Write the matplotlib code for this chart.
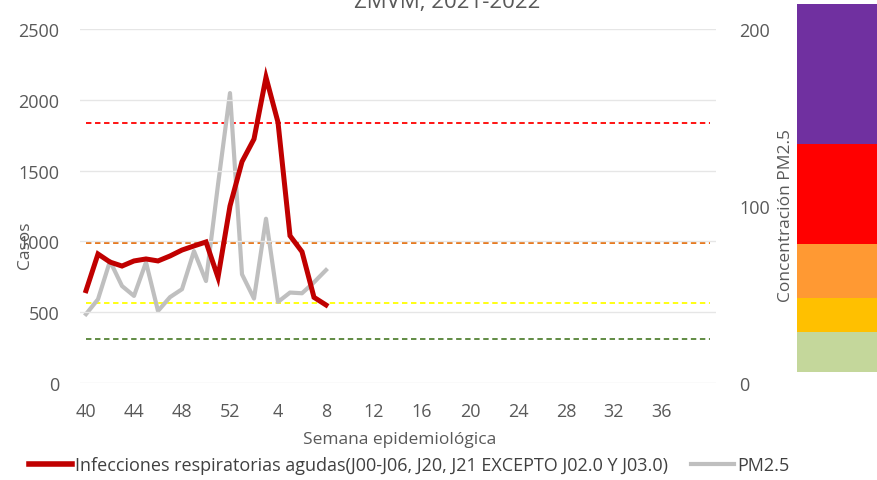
import numpy as np
import matplotlib.pyplot as plt
from matplotlib.lines import Line2D

plt.rcParams['font.family'] = ['Open Sans', 'DejaVu Sans']

# semanas epidemiologicas 40-52 (2021) y 1-40 (2022)
weeks = list(range(40, 53)) + list(range(1, 41))
casos = [652, 911, 854, 826, 862, 876, 862, 897, 939, 968, 996, 746,
         1250, 1563, 1723, 2159, 1841, 1040, 927, 605, 551]
pm25 = [38.9, 47.3, 68.9, 54.8, 49.2, 68.2, 40.7, 48.5, 53.0, 74.5, 57.6, 112,
        163.8, 61.4, 47.7, 92.8, 45.8, 51.1, 50.7, 56.9, 63.8]
# limites del indice de calidad del aire PM2.5
limites = [25, 45, 79, 147]
limite_colors = ['#548235', '#FFFF00', '#E46C0A', '#FF0000']
# franjas de la escala de color
franjas = [40, 34, 54, 100, 140]
franja_colors = ['#C4D79B', '#FFC000', '#FF9933', '#FF0000', '#7030A0']

grey = '#595959'
fig = plt.figure(figsize=(8.77, 4.81), dpi=100)
fig.patch.set_facecolor('white')

ax = fig.add_axes([80 / 877, 1 - 384 / 481, 636 / 877, 354 / 481])
ax2 = ax.twinx()

x = np.arange(len(weeks))
ax.plot(x[:len(casos)], casos, color='#C00000', lw=3.6, solid_joinstyle='miter', zorder=3)
ax2.plot(x[:len(pm25)], pm25, color='#BFBFBF', lw=3.0, zorder=2)
for v, c in zip(limites, limite_colors):
    ax2.plot(x, [v] * len(x), color=c, lw=1.3, ls=(0, (3, 2)), zorder=1)

ax.set_zorder(ax2.get_zorder() + 1)
ax.patch.set_visible(False)

ax.set_xlim(-0.5, len(weeks) - 0.5)
ax.set_ylim(0, 2500)
ax2.set_ylim(0, 200)
ax.set_yticks(range(0, 2501, 500))
ax2.set_yticks([0, 100, 200])
ax.set_xticks(x[::4][:13])
ax.set_xticklabels([str(weeks[i]) for i in x[::4][:13]])
ax.grid(axis='y', color='#E6E6E6', lw=1.0)
ax.set_axisbelow(True)
for a in (ax, ax2):
    for s in a.spines.values():
        s.set_visible(False)
    a.tick_params(length=0, colors=grey, labelsize=13)
ax.tick_params(axis='y', pad=15)
ax.tick_params(axis='x', pad=14)
ax2.tick_params(axis='y', pad=17)

fig.text(25 / 877, 1 - 245 / 481, 'Casos', rotation=90, color=grey, fontsize=12.5,
         ha='center', va='center')
fig.text(786 / 877, 1 - 215 / 481, 'Concentración PM2.5', rotation=90, color=grey,
         fontsize=12.5, ha='center', va='center')
fig.text(400 / 877, 1 - 440 / 481, 'Semana epidemiológica', color=grey, fontsize=12.5,
         ha='center', va='center')
fig.text(447 / 877, 1 - 8 / 481, 'ZMVM, 2021-2022', color=grey, fontsize=16,
         ha='center', va='baseline')

handles = [Line2D([], [], color='#C00000', lw=4),
           Line2D([], [], color='#BFBFBF', lw=3)]
fig.legend(handles, ['Infecciones respiratorias agudas(J00-J06, J20, J21 EXCEPTO J02.0 Y J03.0)',
                     'PM2.5'],
           loc='center', bbox_to_anchor=(409 / 877, 1 - 466 / 481), ncol=2, frameon=False,
           fontsize=13, handlelength=2.4, handletextpad=0.15, columnspacing=1.3,
           labelcolor='#404040')

# escala de color a la derecha
axc = fig.add_axes([797 / 877, 1 - 373 / 481, 80 / 877, 368 / 481])
axc.bar([0] * len(franjas), franjas, bottom=np.cumsum([0] + franjas[:-1]),
        color=franja_colors, width=1.0)
axc.set_xlim(-0.5, 0.5)
axc.set_ylim(0, sum(franjas))
axc.axis('off')

fig.savefig('out.png', dpi=100)
